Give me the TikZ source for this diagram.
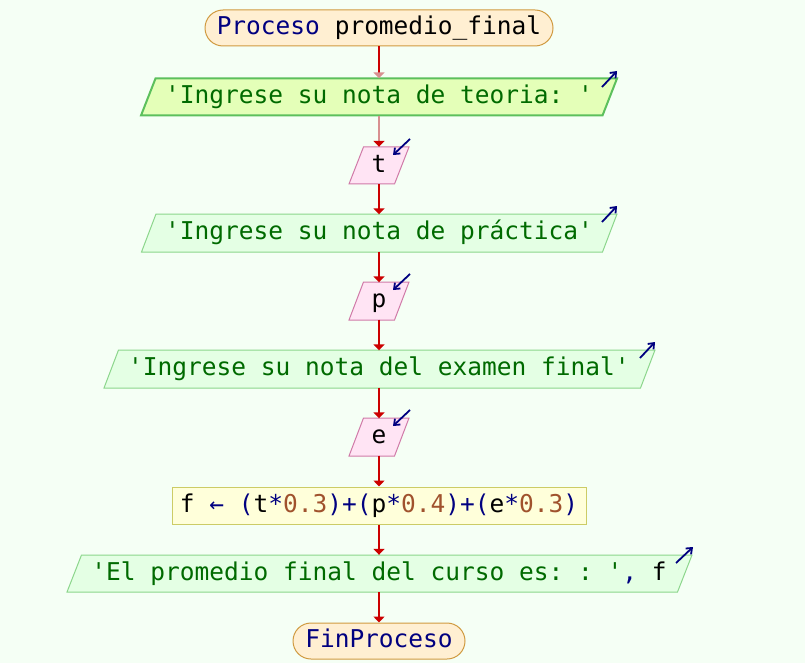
\documentclass[tikz,border=0pt]{standalone}
\usepackage{fontspec}
\setmonofont{DejaVu Sans Mono}
\usetikzlibrary{arrows.meta}
\definecolor{bg}{HTML}{F5FFF5}
\definecolor{termfill}{HTML}{FFEFD2}
\definecolor{termdraw}{HTML}{D09A40}
\definecolor{out1fill}{HTML}{E4FFB8}
\definecolor{out1draw}{HTML}{5CC05C}
\definecolor{outfill}{HTML}{E4FFE4}
\definecolor{outdraw}{HTML}{8CD68C}
\definecolor{infill}{HTML}{FFE4F4}
\definecolor{indraw}{HTML}{D07AA8}
\definecolor{asgfill}{HTML}{FFFFDA}
\definecolor{asgdraw}{HTML}{CCCC66}
\definecolor{flow}{HTML}{CC0000}
\definecolor{paleflow}{HTML}{D89090}
\definecolor{kw}{HTML}{000080}
\definecolor{str}{HTML}{006A00}
\definecolor{num}{HTML}{A0522D}
\newcommand\pgram[5]{\path[#5] (#1,#4) -- (#2-14.5,#4) -- (#2,#3) -- (#1+14.5,#3) -- cycle;}
\begin{document}
\begin{tikzpicture}[x=1pt,y=-1pt,
  txt/.style={font=\ttfamily\fontsize{24.5}{28}\selectfont, inner sep=0pt, text height=18pt, text depth=5pt},
  term/.style={txt, draw=termdraw, fill=termfill, line width=1pt, rounded corners=18pt, minimum height=36pt, text=kw},
  slot/.style={txt, minimum height=37pt},
  asg/.style={txt, draw=asgdraw, fill=asgfill, line width=1pt, minimum height=37pt},
  outshape/.style={draw=outdraw, fill=outfill, line width=1pt},
  outshapehl/.style={draw=out1draw, fill=out1fill, line width=2pt},
  inshape/.style={draw=indraw, fill=infill, line width=1pt},
  flowline/.style={draw=flow, line width=1.6pt, -{Triangle[length=6pt,width=11pt]}},
  ioarrow/.style={draw=kw, line width=1.8pt, -{Straight Barb[length=5pt,width=8pt]}}
]
\useasboundingbox (0,0) rectangle (805,663);
\fill[bg] (0,0) rectangle (805,663);

% shapes
\pgram{141}{617}{78.5}{115.5}{outshapehl}
\pgram{349}{409}{147}{184}{inshape}
\pgram{141.5}{617}{214}{252}{outshape}
\pgram{349}{409}{282}{320}{inshape}
\pgram{104}{655}{350}{388}{outshape}
\pgram{349}{409}{418}{456}{inshape}
\pgram{67}{692}{555}{592}{outshape}

% nodes
\node[term, minimum width=348pt] (start) at (379,28) {Proceso \textcolor{black}{promedio\_final}};
\node[slot, minimum width=440pt, text=str] (o1) at (379,97) {'Ingrese su nota de teoria: '};
\node[slot, minimum width=40pt] (t) at (379,165.5) {t};
\node[slot, minimum width=440pt, text=str] (o2) at (379,233) {'Ingrese su nota de práctica'};
\node[slot, minimum width=40pt] (p) at (379,301) {p};
\node[slot, minimum width=520pt, text=str] (o3) at (379,369) {'Ingrese su nota del examen final'};
\node[slot, minimum width=40pt] (e) at (379,437) {e};
\node[asg, minimum width=414pt] (asg) at (379,505.5) {f \textcolor{kw}{← (}t\textcolor{kw}{*}\textcolor{num}{0.3}\textcolor{kw}{)+(}p\textcolor{kw}{*}\textcolor{num}{0.4}\textcolor{kw}{)+(}e\textcolor{kw}{*}\textcolor{num}{0.3}\textcolor{kw}{)}};
\node[slot, minimum width=600pt, text=str] (o4) at (379,573.5) {'El promedio final del curso es: : '\textcolor{kw}{, }\textcolor{black}{f}};
\node[term, minimum width=172pt] (fin) at (379,641) {FinProceso};

% io markers
\coordinate (o1a) at (602,87);  \coordinate (o1b) at (617,71);
\coordinate (ta) at (410,139);  \coordinate (tb) at (393,155);
\coordinate (o2a) at (602,222); \coordinate (o2b) at (617,206);
\coordinate (pa) at (410,274);  \coordinate (pb) at (393,290);
\coordinate (o3a) at (640,358); \coordinate (o3b) at (655,342);
\coordinate (ea) at (410,410);  \coordinate (eb) at (393,426);
\coordinate (o4a) at (676,563); \coordinate (o4b) at (693,547);
\draw[ioarrow] (o1a) -- (o1b);
\draw[ioarrow] (ta) -- (tb);
\draw[ioarrow] (o2a) -- (o2b);
\draw[ioarrow] (pa) -- (pb);
\draw[ioarrow] (o3a) -- (o3b);
\draw[ioarrow] (ea) -- (eb);
\draw[ioarrow] (o4a) -- (o4b);

% connectors
\draw[flowline, -{Triangle[length=6pt,width=11pt,color=paleflow]}] (start.south) -- (o1.north);
\draw[flowline, draw=paleflow, -{Triangle[length=6pt,width=11pt,color=flow]}] (o1.south) -- (t.north);
\draw[flowline] (t.south) -- (o2.north);
\draw[flowline] (o2.south) -- (p.north);
\draw[flowline] (p.south) -- (o3.north);
\draw[flowline] (o3.south) -- (e.north);
\draw[flowline] (e.south) -- (asg.north);
\draw[flowline] (asg.south) -- (o4.north);
\draw[flowline] (o4.south) -- (fin.north);
\end{tikzpicture}
\end{document}
